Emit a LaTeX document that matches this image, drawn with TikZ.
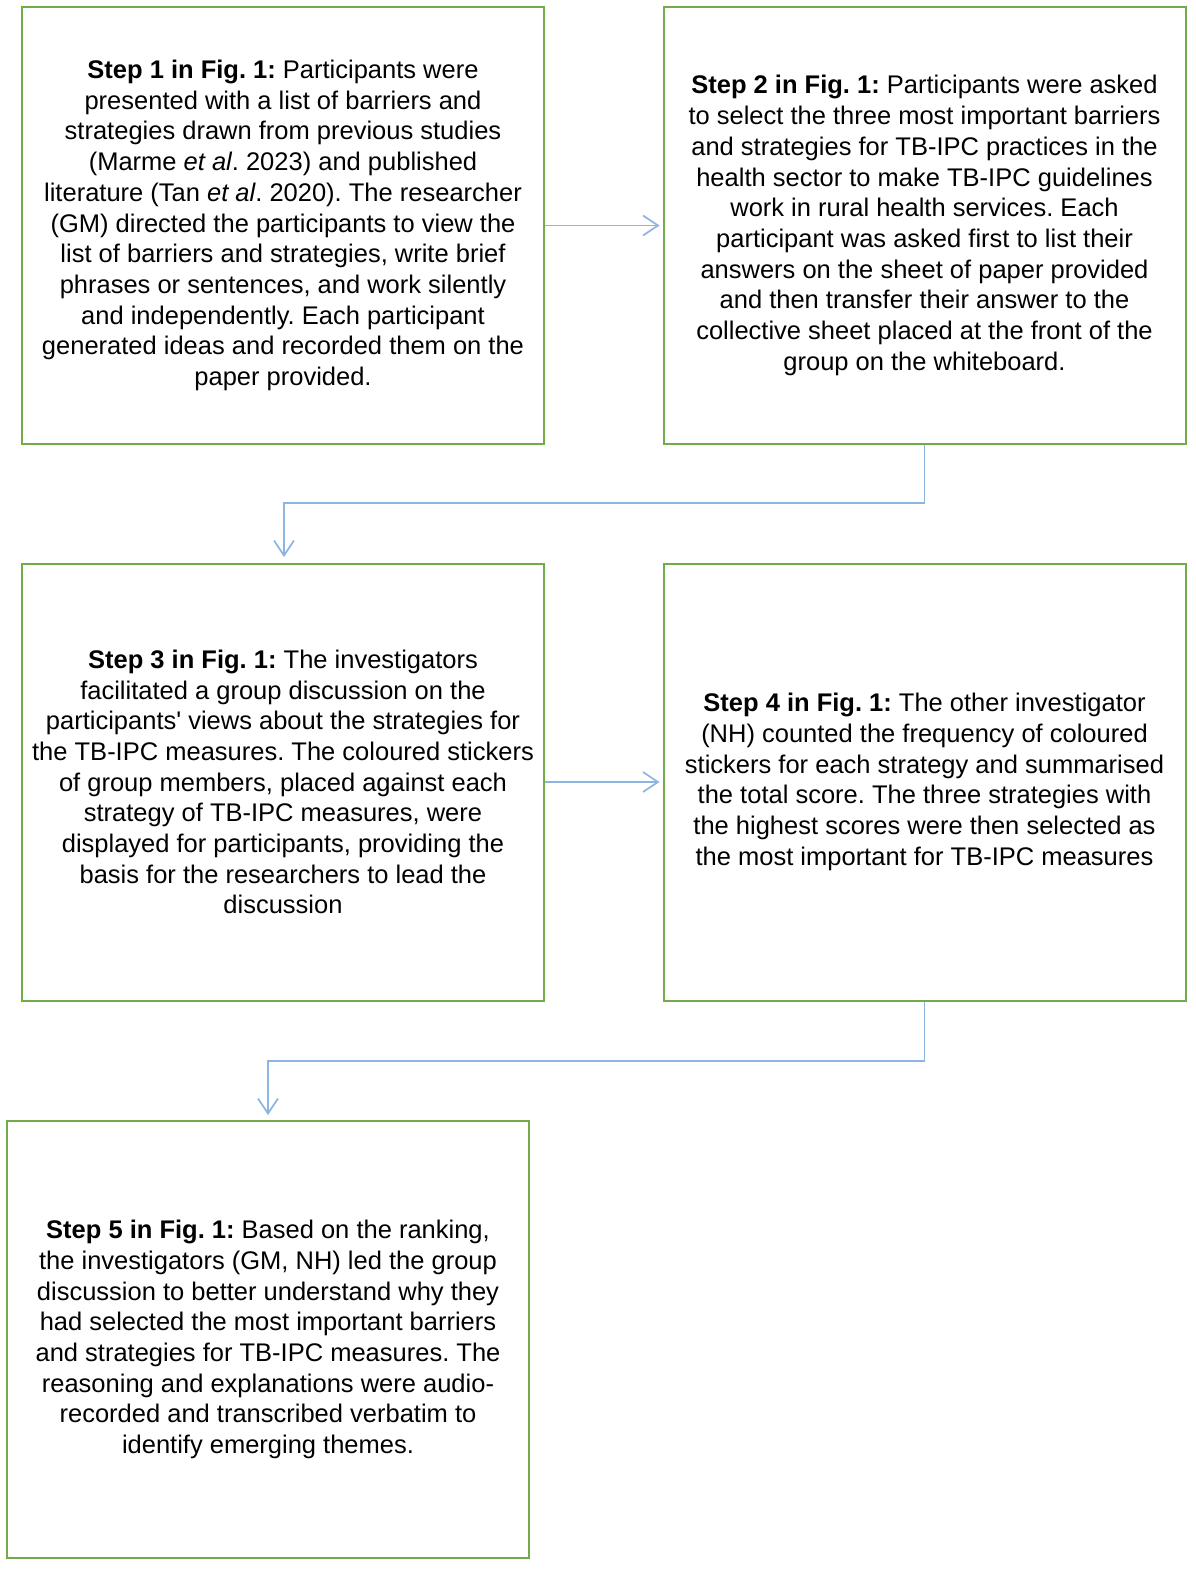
\documentclass[tikz,border=0pt]{standalone}
\usepackage{fontspec}
\setmainfont{Liberation Sans}[Ligatures=TeXOff]
\usetikzlibrary{arrows.meta}
\definecolor{boxgreen}{HTML}{70AD47}
\definecolor{arrowblue}{HTML}{8EB4E3}
\frenchspacing
\begin{document}
\begin{tikzpicture}[x=1pt,y=-1pt,
  stepbox/.style={draw=boxgreen,line width=2pt,minimum width=522pt,minimum height=437pt,inner sep=0pt,align=center,font=\fontsize{25.5}{30.7}\selectfont},
  conn/.style={draw=arrowblue,line width=1.7pt,-{Straight Barb[length=15pt,width=20pt,line width=1.7pt]}}]
\useasboundingbox (0,0) rectangle (1195,1569);
\node[stepbox] (s1) at (283,225.5) {\textbf{Step 1 in Fig. 1:} Participants were\\presented with a list of barriers and\\strategies drawn from previous studies\\(Marme \textit{et al}. 2023) and published\\literature (Tan \textit{et al}. 2020). The researcher\\(GM) directed the participants to view the\\list of barriers and strategies, write brief\\phrases or sentences, and work silently\\and independently. Each participant\\generated ideas and recorded them on the\\paper provided.};
\node[stepbox] (s2) at (924.5,225.5) {\textbf{Step 2 in Fig. 1:} Participants were asked\\to select the three most important barriers\\and strategies for TB-IPC practices in the\\health sector to make TB-IPC guidelines\\work in rural health services. Each\\participant was asked first to list their\\answers on the sheet of paper provided\\and then transfer their answer to the\\collective sheet placed at the front of the\\group on the whiteboard.};
\node[stepbox] (s3) at (283,782) {\textbf{Step 3 in Fig. 1:} The investigators\\facilitated a group discussion on the\\participants' views about the strategies for\\the TB-IPC measures. The coloured stickers\\of group members, placed against each\\strategy of TB-IPC measures, were\\displayed for participants, providing the\\basis for the researchers to lead the\\discussion};
\node[stepbox] (s4) at (924.5,782) {\textbf{Step 4 in Fig. 1:} The other investigator\\(NH) counted the frequency of coloured\\stickers for each strategy and summarised\\the total score. The three strategies with\\the highest scores were then selected as\\the most important for TB-IPC measures};
\node[stepbox] (s5) at (268,1339.5) {\textbf{Step 5 in Fig. 1:} Based on the ranking,\\the investigators (GM, NH) led the group\\discussion to better understand why they\\had selected the most important barriers\\and strategies for TB-IPC measures. The\\reasoning and explanations were audio-\\recorded and transcribed verbatim to\\identify emerging themes.};
\coordinate (t3) at (284,557);
\coordinate (t5) at (268,1115);
\draw[conn] (s1.east) -- ([xshift=-3pt]s2.west);
\draw[conn] (s3.east) -- ([xshift=-3pt]s4.west);
\draw[conn] (s2.south) |- (284,503) -- (t3);
\draw[conn] (s4.south) |- (268,1061) -- (t5);
\end{tikzpicture}
\end{document}
